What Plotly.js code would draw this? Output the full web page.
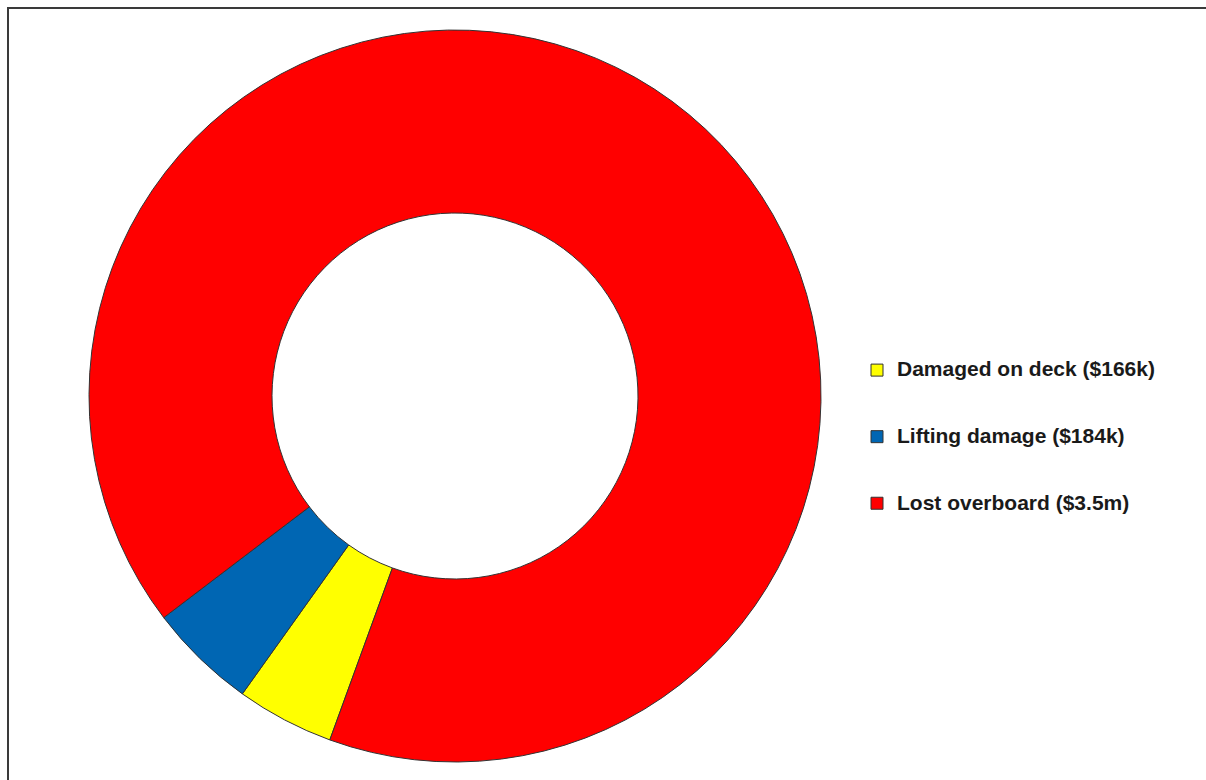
<!DOCTYPE html>
<html>
<head>
<meta charset="utf-8">
<script src="https://cdn.plot.ly/plotly-3.0.1.min.js"></script>
<style>
html,body{margin:0;padding:0;background:#fff;}
#wrap{position:relative;width:1206px;height:780px;}
#chart{position:absolute;left:0;top:0;width:1206px;height:780px;}
#frame{position:absolute;left:7px;top:7px;right:0;bottom:0;border-top:2px solid #3a3a3a;border-left:2px solid #3a3a3a;pointer-events:none;}
</style>
</head>
<body>
<div id="wrap"><div id="chart"></div><div id="frame"></div></div>
<script>
const labels = ["Damaged on deck ($166k)", "Lifting damage ($184k)", "Lost overboard ($3.5m)"];
const values = [166, 184, 3500];
const colors = ["#ffff00", "#0066b3", "#ff0000"];

const trace = {
  type: "pie",
  labels: labels.map(l => '<span style="font-size:21px">' + l + '</span><br>&nbsp;<br>&nbsp;'),
  values: values,
  hole: 0.5,
  sort: false,
  direction: "clockwise",
  rotation: 200,
  textinfo: "none",
  hoverinfo: "label+value",
  marker: {colors: colors, line: {color: "#333333", width: 1}},
  domain: {x: [89/1206, 821/1206], y: [18/780, 750/780]}
};

const layout = {
  width: 1206, height: 780,
  margin: {l: 0, r: 0, t: 0, b: 0},
  paper_bgcolor: "#ffffff",
  showlegend: true,
  legend: {
    x: 857/1206, xanchor: "left",
    y: 1 - 353/780, yanchor: "top",
    valign: "top",
    font: {family: "Liberation Sans, Arial, sans-serif", size: 16.3, color: "#1a1a1a", weight: "bold"},
    itemwidth: 30,
    bgcolor: "rgba(0,0,0,0)"
  }
};

Plotly.newPlot("chart", [trace], layout, {displayModeBar: false, staticPlot: true});
</script>
</body>
</html>
